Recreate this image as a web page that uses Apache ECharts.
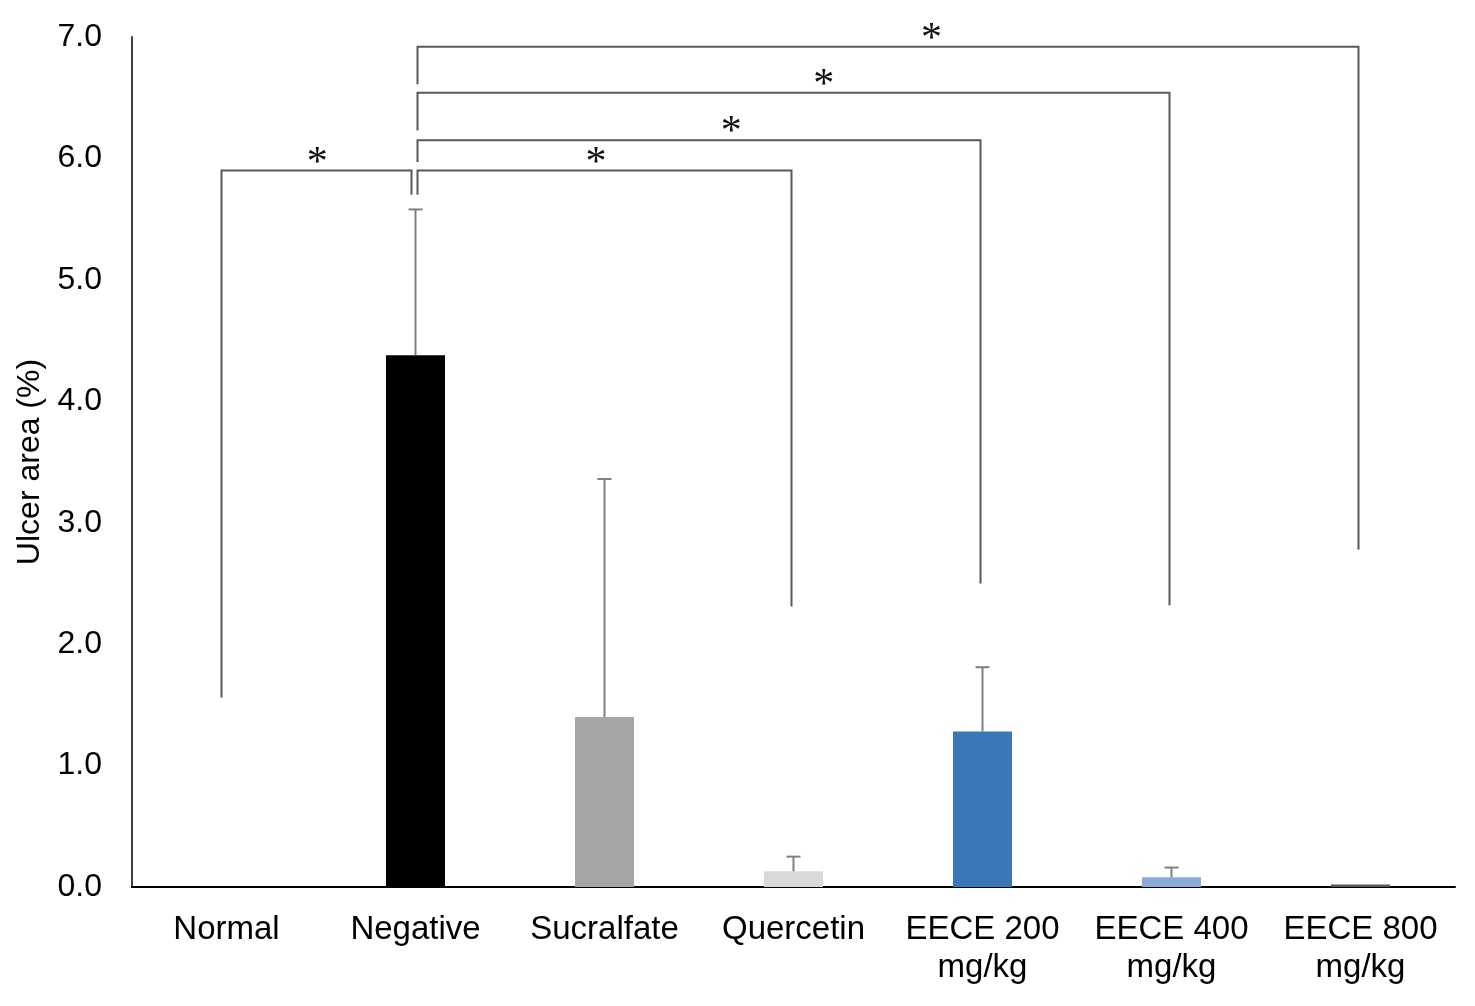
<!DOCTYPE html>
<html>
<head>
<meta charset="utf-8">
<title>Ulcer area</title>
<script src="https://cdn.jsdelivr.net/npm/echarts@6/dist/echarts.min.js"></script>
<style>
  html, body { margin: 0; padding: 0; background: #fff; }
  #chart-container { width: 1475px; height: 1006px; }
</style>
</head>
<body>
<div id="chart-container"></div>
<script>
var dom = document.getElementById('chart-container');
var myChart = echarts.init(dom, null, { renderer: 'canvas' });

// groups on the x axis
var groups = ['Normal', 'Negative', 'Sucralfate', 'Quercetin', 'EECE 200\nmg/kg', 'EECE 400\nmg/kg', 'EECE 800\nmg/kg'];
// mean ulcer area (%)
var means = [0, 4.38, 1.40, 0.13, 1.28, 0.08, 0.02];
// standard deviation (upper error bar only)
var sds = [0, 1.20, 1.96, 0.12, 0.53, 0.08, 0];
var barColors = ['#000000', '#000000', '#a5a5a5', '#d9d9d9', '#3a77b6', '#8aaad7', '#595959'];

// significance brackets: [leftGroup, rightGroup, level, leftFoot, rightFoot]
var brackets = [
  [0, 1, 5.90, 1.56, 5.70],
  [1, 3, 5.90, 5.70, 2.31],
  [1, 4, 6.15, 5.97, 2.50],
  [1, 5, 6.54, 6.23, 2.32],
  [1, 6, 6.92, 6.61, 2.78]
];
// where each star sits along its bracket (category units)
var starX = [0.48, 1.955, 2.67, 3.16, 3.73];

var yTicks = { min: 0, max: 7, interval: 1 };

var barData = means.map(function (v, i) {
  return { value: v, itemStyle: { color: barColors[i] } };
});
var errData = means.map(function (v, i) { return [i, v, v + sds[i]]; });
var bracketData = brackets.map(function (b, i) { return b.concat([starX[i]]); });

var font = 'Liberation Sans, Arial, sans-serif';

// pixel x for a fractional category position
function catX(api, pos, y) {
  var i = Math.floor(pos), f = pos - i;
  var p0 = api.coord([i, y]), p1 = api.coord([i + 1, y]);
  return p0[0] + (p1[0] - p0[0]) * f;
}

var option = {
  animation: false,
  grid: { left: 132, right: 20, top: 37, bottom: 119, containLabel: false, outerBoundsMode: 'none' },
  xAxis: {
    type: 'category',
    data: groups,
    axisLine: { lineStyle: { color: '#000', width: 2 } },
    axisTick: { show: false },
    axisLabel: {
      color: '#000', fontSize: 33, fontFamily: font,
      lineHeight: 38, margin: 24, interval: 0
    }
  },
  yAxis: {
    type: 'value',
    min: yTicks.min,
    max: yTicks.max,
    interval: yTicks.interval,
    name: 'Ulcer area (%)',
    nameLocation: 'middle',
    nameGap: 86,
    nameTextStyle: { color: '#000', fontSize: 32, fontFamily: font },
    axisLine: { show: true, lineStyle: { color: '#404040', width: 2 } },
    axisTick: { show: false },
    splitLine: { show: false },
    axisLabel: {
      color: '#000', fontSize: 32, fontFamily: font, margin: 30,
      formatter: function (v) { return v.toFixed(1); }
    }
  },
  series: [
    {
      type: 'bar',
      data: barData,
      barWidth: 59,
      z: 2
    },
    {
      type: 'custom',
      data: errData,
      z: 3,
      renderItem: function (params, api) {
        if (api.value(2) <= api.value(1)) return null;
        var base = api.coord([api.value(0), api.value(1)]);
        var top = api.coord([api.value(0), api.value(2)]);
        var style = { stroke: '#7f7f7f', lineWidth: 2 };
        return {
          type: 'group',
          children: [
            { type: 'line', shape: { x1: base[0], y1: base[1], x2: top[0], y2: top[1] }, style: style },
            { type: 'line', shape: { x1: top[0] - 7, y1: top[1], x2: top[0] + 7, y2: top[1] }, style: style }
          ]
        };
      }
    },
    {
      type: 'custom',
      data: bracketData,
      z: 4,
      renderItem: function (params, api) {
        var a = api.value(0), b = api.value(1), lvl = api.value(2);
        var nudgeA = a === 0 ? -5 : 2;
        var nudgeB = b === 1 ? -4 : -2;
        var pA = api.coord([a, lvl]);
        var pB = api.coord([b, lvl]);
        var fA = api.coord([a, api.value(3)]);
        var fB = api.coord([b, api.value(4)]);
        var xA = pA[0] + nudgeA, xB = pB[0] + nudgeB;
        var sx = catX(api, api.value(5), lvl);
        return {
          type: 'group',
          children: [
            {
              type: 'polyline',
              shape: { points: [[xA, fA[1]], [xA, pA[1]], [xB, pB[1]], [xB, fB[1]]] },
              style: { stroke: '#595959', lineWidth: 2, fill: null }
            },
            {
              type: 'text',
              x: sx, y: pA[1] - 7,
              style: {
                text: '*', fontSize: 42, fontFamily: 'Liberation Serif, serif', fill: '#111',
                align: 'center', verticalAlign: 'middle'
              }
            }
          ]
        };
      }
    }
  ]
};

myChart.setOption(option);
window.addEventListener('resize', myChart.resize);
</script>
</body>
</html>
